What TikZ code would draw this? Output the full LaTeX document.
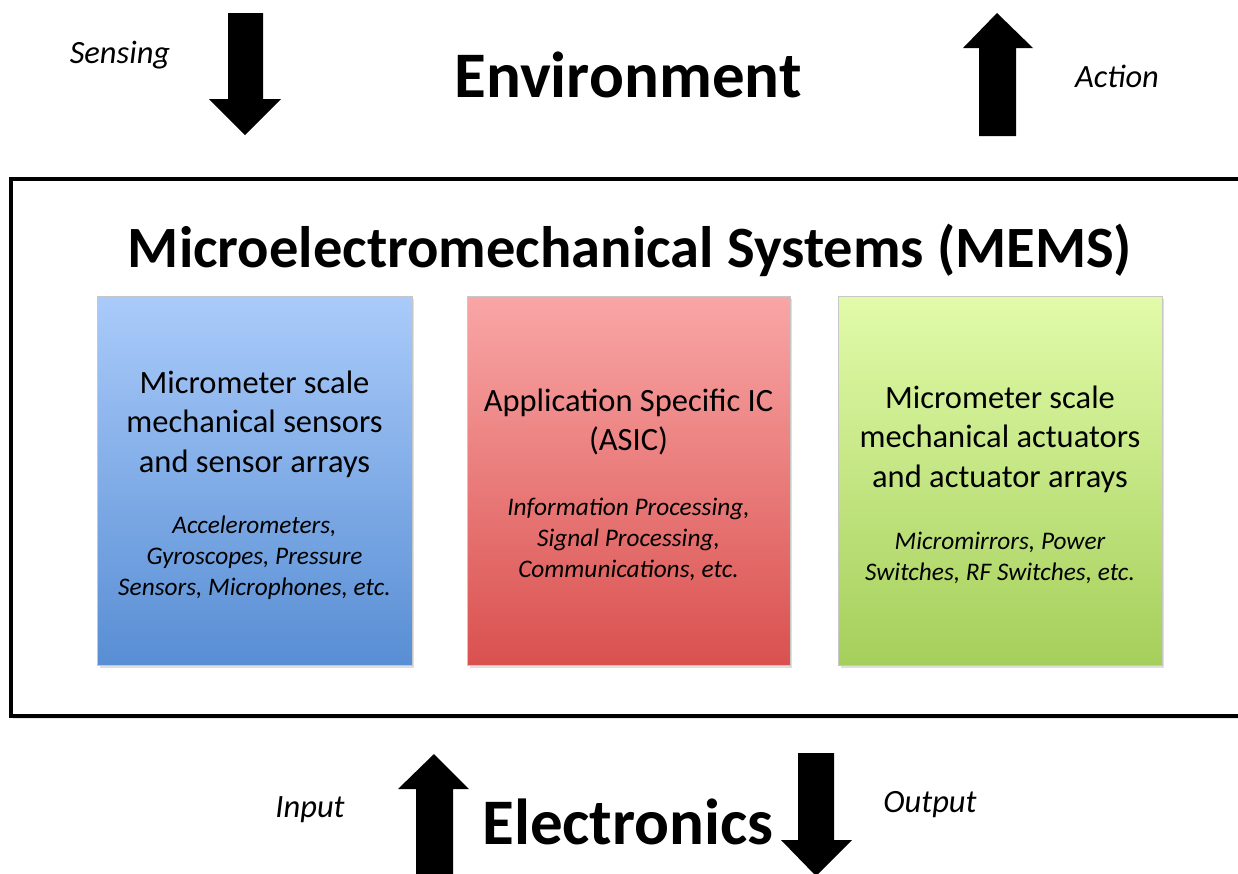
\documentclass[tikz,border=0pt]{standalone}
\usepackage{fontspec}
\setmainfont{Carlito}
\usepackage{tikz}
\usetikzlibrary{shadows,positioning}
\definecolor{SensTop}{RGB}{170,203,250}
\definecolor{SensBot}{RGB}{88,142,212}
\definecolor{AsicTop}{RGB}{249,166,166}
\definecolor{AsicBot}{RGB}{217,81,79}
\definecolor{ActTop}{RGB}{226,251,170}
\definecolor{ActBot}{RGB}{165,207,91}

\begin{document}
\begin{tikzpicture}[x=0.02cm,y=-0.02cm,
  panel/.style={minimum width=#1,minimum height=7.38cm,inner sep=0pt,
    draw=black!22,line width=0.4pt,
    drop shadow={opacity=0.25,shadow xshift=0.5mm,shadow yshift=-0.6mm}},
  headline/.style={inner sep=0pt,font=\fontsize{37}{44}\selectfont\bfseries},
  title/.style={inner sep=0pt,font=\fontsize{33.3}{40}\selectfont\bfseries},
  flowlabel/.style={inner sep=0pt,font=\fontsize{18.5}{22}\selectfont\itshape},
  boxtext/.style={inner sep=0pt,align=center,font=\fontsize{18.5}{22.5}\selectfont},
  boxnote/.style={inner sep=0pt,align=center,font=\fontsize{14.4}{17.6}\selectfont\itshape},
  blockarrow/.style={fill=black}
]
\useasboundingbox (0,0) rectangle (1238,873);

% Environment side.
\node[headline] (env) at (628,75) {Environment};
\node[flowlabel] (sensing) at (120,55) {Sensing};
\node[flowlabel] (action) at (1117,76) {Action};
\fill[blockarrow] (228,13) -- (263,13) -- (263,99) -- (281,99) -- (245,135)
  -- (209,99) -- (228,99) -- cycle;
\fill[blockarrow] (979,136) -- (1016,136) -- (1016,48) -- (1033,48) -- (997,13)
  -- (963,48) -- (979,48) -- cycle;

% MEMS frame.
\draw[line width=2pt,
  drop shadow={opacity=0.2,shadow xshift=0.4mm,shadow yshift=-0.5mm},fill=white]
  (11,179) rectangle (1250,716);
\node[title] (mems) at (630,250) {Microelectromechanical Systems (MEMS)};

% Sensors.
\node[panel=6.3cm,top color=SensTop,bottom color=SensBot] (sensors) at (254.5,480.5) {};
\node[boxtext] (sensT) at (254.5,424) {Micrometer scale\\mechanical sensors\\and sensor arrays};
\node[boxnote] (sensN) at (254.5,558) {Accelerometers,\\Gyroscopes, Pressure\\Sensors, Microphones, etc.};

% ASIC.
\node[panel=6.46cm,top color=AsicTop,bottom color=AsicBot] (asic) at (628.5,480.5) {};
\node[boxtext] (asicT) at (628.5,422) {Application Specific IC\\(ASIC)};
\node[boxnote] (asicN) at (628.5,539) {Information Processing,\\Signal Processing,\\Communications, etc.};

% Actuators.
\node[panel=6.48cm,top color=ActTop,bottom color=ActBot] (actuators) at (1000,480.5) {};
\node[boxtext] (actT) at (1000,439) {Micrometer scale\\mechanical actuators\\and actuator arrays};
\node[boxnote] (actN) at (1000,558) {Micromirrors, Power\\Switches, RF Switches, etc.};

% Electronics side.
\node[headline] (elec) at (628,822) {Electronics};
\node[flowlabel] (input) at (310,810) {Input};
\node[flowlabel] (output) at (930,805) {Output};
\fill[blockarrow] (416,880) -- (453,880) -- (453,789) -- (469,789) -- (434,754)
  -- (398,789) -- (416,789) -- cycle;
\fill[blockarrow] (798,753) -- (834,753) -- (834,840) -- (852,840) -- (816,876)
  -- (781,840) -- (798,840) -- cycle;
\end{tikzpicture}
\end{document}
